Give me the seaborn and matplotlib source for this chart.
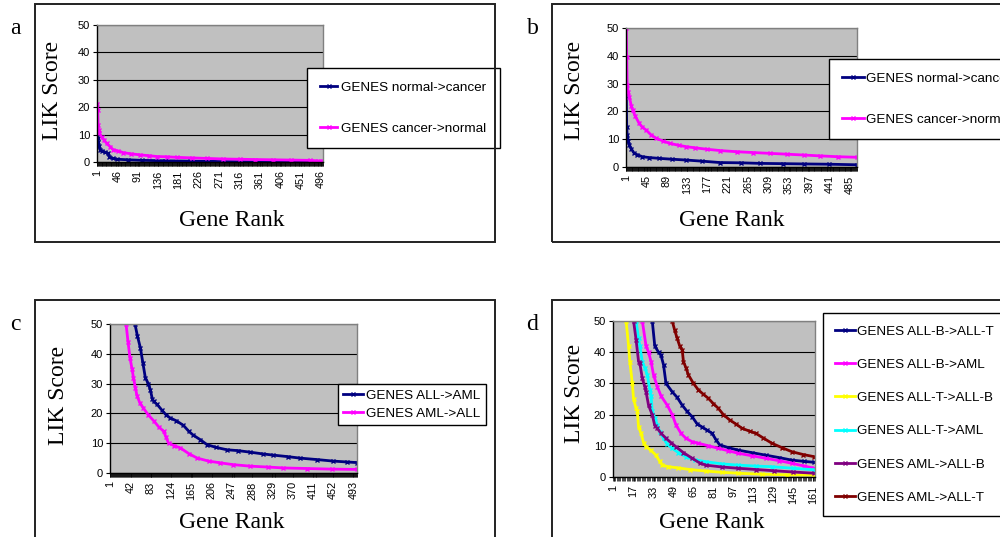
import numpy as np
import matplotlib
matplotlib.use('Agg')
import matplotlib.pyplot as plt
import seaborn as sns
from matplotlib.patches import Rectangle
from matplotlib.font_manager import FontProperties

W, H = 1000, 537

# panel a
a_labels = ['GENES normal->cancer', 'GENES cancer->normal']
a_nc_rank = [1, 2, 3, 5, 8, 12, 18, 24, 28, 35, 45, 70, 100, 150, 207, 260, 317, 400, 500]
a_nc_score = [10.5, 8.8, 7.2, 5.8, 4.5, 4.0, 3.6, 3.2, 1.9, 1.3, 1.0, 0.8, 0.6, 0.45, 0.3, 0.2, 0.1, 0.05, 0.0]
a_cn_rank = [1, 2, 3, 4, 6, 11, 16, 22, 30, 37, 48, 59, 75, 96, 115, 133, 155, 177, 210, 244,
             280, 317, 350, 390, 430, 472, 490, 500]
a_cn_score = [21.0, 19.0, 13.5, 11.7, 10.5, 9.2, 8.0, 6.8, 5.5, 4.4, 4.0, 3.4, 3.0, 2.6, 2.3, 2.0,
              1.9, 1.7, 1.5, 1.3, 1.1, 1.0, 0.9, 0.8, 0.7, 0.6, 0.4, 0.3]

# panel b
b_labels = ['GENES normal->cancer', 'GENES cancer->normal']
b_nc_rank = [1, 2, 3, 5, 8, 12, 18, 25, 36, 50, 73, 100, 131, 165, 204, 250, 291, 340, 386, 440, 500]
b_nc_score = [27.0, 14.5, 11.5, 9.5, 7.9, 6.5, 5.0, 4.4, 3.7, 3.4, 3.1, 2.8, 2.5, 2.1, 1.6, 1.5,
              1.3, 1.2, 1.1, 1.0, 0.8]
b_cn_rank = [1, 2, 3, 5, 8, 12, 15, 20, 29, 36, 44, 55, 66, 80, 95, 115, 131, 150, 175, 205,
             240, 275, 313, 350, 386, 420, 459, 500]
b_cn_score = [50.0, 39.5, 29.5, 27.0, 25.0, 22.0, 20.5, 18.5, 15.7, 14.3, 13.3, 11.5, 10.3, 9.4,
              8.5, 7.8, 7.3, 6.9, 6.4, 5.9, 5.5, 5.2, 4.9, 4.6, 4.3, 4.0, 3.7, 3.5]

# panel c
c_labels = ['GENES ALL->AML', 'GENES AML->ALL']
c_all_aml_rank = [51, 56, 62, 67, 72, 78, 82, 86, 89, 96, 106, 114, 122, 135, 149, 160, 169, 183,
                  197, 215, 237, 260, 284, 310, 331, 360, 385, 420, 452, 480, 500]
c_all_aml_score = [50.0, 46.0, 42.0, 37.0, 32.0, 30.0, 28.0, 25.0, 24.0, 23.0, 21.0, 19.5, 18.5,
                   17.5, 16.0, 14.0, 12.7, 11.2, 9.5, 8.6, 7.8, 7.5, 7.0, 6.4, 6.0, 5.5, 5.0, 4.5,
                   4.0, 3.7, 3.5]
c_aml_all_rank = [33, 37, 41, 45, 48, 52, 55, 61, 68, 78, 89, 99, 109, 114, 119, 130, 143, 160,
                  177, 200, 224, 250, 284, 320, 351, 400, 450, 500]
c_aml_all_score = [50.0, 44.0, 38.6, 35.0, 32.0, 28.5, 26.0, 23.5, 21.8, 19.5, 17.5, 15.5, 14.0,
                   12.0, 10.0, 9.2, 8.4, 6.5, 5.0, 4.0, 3.4, 2.8, 2.3, 2.0, 1.7, 1.5, 1.3, 1.2]

# panel d
d_labels = ['GENES ALL-B->ALL-T', 'GENES ALL-B->AML', 'GENES ALL-T->ALL-B',
            'GENES ALL-T->AML', 'GENES AML->ALL-B', 'GENES AML->ALL-T']
d_bt_rank = [32, 34, 37, 39, 41, 43, 48, 52, 56, 60, 64, 68, 72, 76, 80, 83, 86, 93, 101, 112,
             123, 134, 144, 154, 162]
d_bt_score = [50.0, 42.0, 40.0, 39.0, 36.0, 30.0, 27.3, 25.5, 23.0, 21.0, 19.3, 17.0, 16.0, 15.0,
              14.0, 12.0, 10.3, 9.4, 8.6, 7.8, 7.0, 6.2, 5.4, 5.0, 4.7]
d_ba_rank = [24, 27, 29, 31, 33, 36, 39, 44, 48, 51, 55, 59, 64, 69, 77, 85, 93, 101, 112, 123,
             134, 144, 154, 162]
d_ba_score = [50.0, 42.0, 40.0, 37.0, 32.7, 29.0, 26.0, 23.0, 20.0, 16.7, 14.0, 12.4, 11.3, 10.8,
              10.0, 9.2, 8.4, 7.6, 6.8, 6.0, 5.2, 4.4, 3.5, 2.8]
d_tb_rank = [11, 13, 14, 16, 17, 19, 20, 21, 23, 25, 27, 31, 35, 38, 40, 45, 53, 62, 75, 88, 101,
             120, 140, 162]
d_tb_score = [50.0, 42.0, 37.0, 30.0, 25.0, 22.0, 21.0, 16.0, 14.0, 11.0, 9.7, 8.5, 7.0, 5.0, 3.8,
              3.3, 2.9, 2.4, 1.9, 1.5, 1.2, 0.9, 0.7, 0.6]
d_ta_rank = [19, 21, 22, 24, 26, 28, 30, 31, 32, 34, 36, 38, 41, 44, 48, 53, 59, 66, 75, 88, 101,
             115, 128, 145, 162]
d_ta_score = [50.0, 44.4, 42.0, 37.0, 35.0, 32.7, 28.0, 26.0, 21.0, 19.0, 16.7, 14.5, 12.4, 10.5,
              9.2, 7.8, 6.5, 5.5, 4.9, 4.2, 3.8, 3.5, 3.3, 2.8, 2.3]
d_ab_rank = [17, 19, 21, 22, 24, 26, 27, 29, 32, 34, 36, 39, 43, 47, 51, 57, 64, 70, 75, 88, 101,
             115, 130, 145, 162]
d_ab_score = [50.0, 44.0, 37.0, 36.5, 31.6, 29.0, 27.3, 23.0, 19.9, 16.5, 15.6, 14.0, 12.4, 11.0,
              9.7, 7.8, 6.0, 4.5, 3.8, 3.2, 2.8, 2.4, 2.0, 1.6, 1.2]
d_at_rank = [48, 50, 52, 54, 56, 57, 59, 61, 65, 69, 73, 77, 81, 85, 89, 94, 99, 104, 110, 115,
             121, 128, 136, 144, 153, 162]
d_at_score = [50.0, 47.0, 44.4, 42.0, 40.7, 37.0, 35.0, 32.7, 30.0, 27.9, 26.5, 25.2, 23.5, 22.0,
              20.0, 18.3, 17.0, 15.6, 14.7, 14.0, 12.5, 10.8, 9.4, 8.1, 7.2, 6.5]

NAVY, MAGENTA, YELLOW, CYAN, PURPLE, BROWN = '#000080', '#FF00FF', '#FFFF00', '#00FFFF', '#800080', '#800000'

sans = 'Liberation Sans'
serif = 'Liberation Serif'

fig = plt.figure(figsize=(W / 100, H / 100), dpi=100)
fig.patch.set_facecolor('white')


def px_rect(x0, y0, x1, y1):
    return [x0 / W, 1 - y1 / H, (x1 - x0) / W, (y1 - y0) / H]


def draw_panel(letter, box, plot, series, n, step, leg_pos, leg_kw, ylab_pos, xlab_pos):
    # outer frame
    fig.add_artist(Rectangle((box[0] / W, 1 - box[3] / H), (box[2] - box[0]) / W,
                             (box[3] - box[1]) / H, transform=fig.transFigure,
                             fill=False, edgecolor='#222222', linewidth=1.4))
    fig.text(box[0] / W - 0.0195, 1 - (box[1] + 25) / H, letter, fontsize=17,
             family=serif, ha='center', va='center')

    ax = fig.add_axes(px_rect(*plot))
    ax.set_facecolor('#C0C0C0')
    for name, ranks, scores, col in series:
        sns.lineplot(x=ranks, y=scores, ax=ax, color=col, marker='x', markersize=3.5,
                     markeredgewidth=1.0, markeredgecolor=col, linewidth=2.0, label=name)
    ax.set_xlim(0.5, n + 0.5)
    ax.set_ylim(0, 50)
    ax.set_yticks([0, 10, 20, 30, 40, 50])
    ax.set_yticklabels(['0', '10', '20', '30', '40', '50'], fontsize=8, family=sans)
    ticks = list(range(1, n + 1, step))
    ax.set_xticks(ticks)
    ax.set_xticklabels([str(t) for t in ticks], rotation=90, fontsize=7.8, family=sans)
    ax.set_xticks(np.arange(0.5, n + 1, 1.0), minor=True)
    ax.tick_params(axis='x', which='both', direction='out', length=3, width=0.5, color='black', pad=3)
    ax.tick_params(axis='y', direction='out', length=3, width=0.8, color='black', pad=2)
    ax.set_axisbelow(True)
    ax.yaxis.grid(True, color='black', linewidth=0.8)
    ax.xaxis.grid(False)
    for s in ['left', 'bottom']:
        ax.spines[s].set_color('black')
        ax.spines[s].set_linewidth(1.0)
    for s in ['top', 'right']:
        ax.spines[s].set_color('#808080')
        ax.spines[s].set_linewidth(1.0)
    ax.set_xlabel('')
    ax.set_ylabel('')

    fig.text(ylab_pos[0] / W, 1 - ylab_pos[1] / H, 'LIK Score', rotation=90, fontsize=17,
             family=serif, ha='center', va='center')
    fig.text(xlab_pos[0] / W, 1 - xlab_pos[1] / H, 'Gene Rank', fontsize=17,
             family=serif, ha='center', va='center')

    handles, labels = ax.get_legend_handles_labels()
    leg = ax.legend(handles, labels, loc='upper left',
                    bbox_to_anchor=(leg_pos[0] / W, 1 - leg_pos[1] / H),
                    bbox_transform=fig.transFigure, frameon=True, fancybox=False,
                    edgecolor='black', framealpha=1, borderaxespad=0,
                    prop=FontProperties(family=sans, size=9.7), numpoints=1, **leg_kw)
    leg.get_frame().set_linewidth(1.0)
    return ax


draw_panel('a', (35, 4, 495, 242), (97, 25, 323, 162),
           [(a_labels[0], a_nc_rank, a_nc_score, NAVY),
            (a_labels[1], a_cn_rank, a_cn_score, MAGENTA)],
           500, 45, (307, 68),
           dict(borderpad=1.0, labelspacing=2.1, handlelength=1.2, handletextpad=0.35),
           (53, 90), (232, 220))

draw_panel('b', (552, 4, 1010, 242), (626, 28, 857, 167),
           [(b_labels[0], b_nc_rank, b_nc_score, NAVY),
            (b_labels[1], b_cn_rank, b_cn_score, MAGENTA)],
           500, 44, (829, 59),
           dict(borderpad=1.0, labelspacing=2.1, handlelength=1.6, handletextpad=0.15),
           (575, 90), (732, 220))

draw_panel('c', (35, 300, 495, 550), (110, 324, 357, 473),
           [(c_labels[0], c_all_aml_rank, c_all_aml_score, NAVY),
            (c_labels[1], c_aml_all_rank, c_aml_all_score, MAGENTA)],
           500, 41, (338, 384),
           dict(borderpad=0.4, labelspacing=0.4, handlelength=1.45, handletextpad=0.25),
           (58, 395), (232, 522))

draw_panel('d', (552, 300, 1010, 550), (613, 321, 815, 477),
           [(d_labels[0], d_bt_rank, d_bt_score, NAVY),
            (d_labels[1], d_ba_rank, d_ba_score, MAGENTA),
            (d_labels[2], d_tb_rank, d_tb_score, YELLOW),
            (d_labels[3], d_ta_rank, d_ta_score, CYAN),
            (d_labels[4], d_ab_rank, d_ab_score, PURPLE),
            (d_labels[5], d_at_rank, d_at_score, BROWN)],
           162, 16, (823, 313),
           dict(borderpad=0.9, labelspacing=1.55, handlelength=1.5, handletextpad=0.15),
           (575, 393), (712, 522))

fig.savefig('out.png', dpi=100)
